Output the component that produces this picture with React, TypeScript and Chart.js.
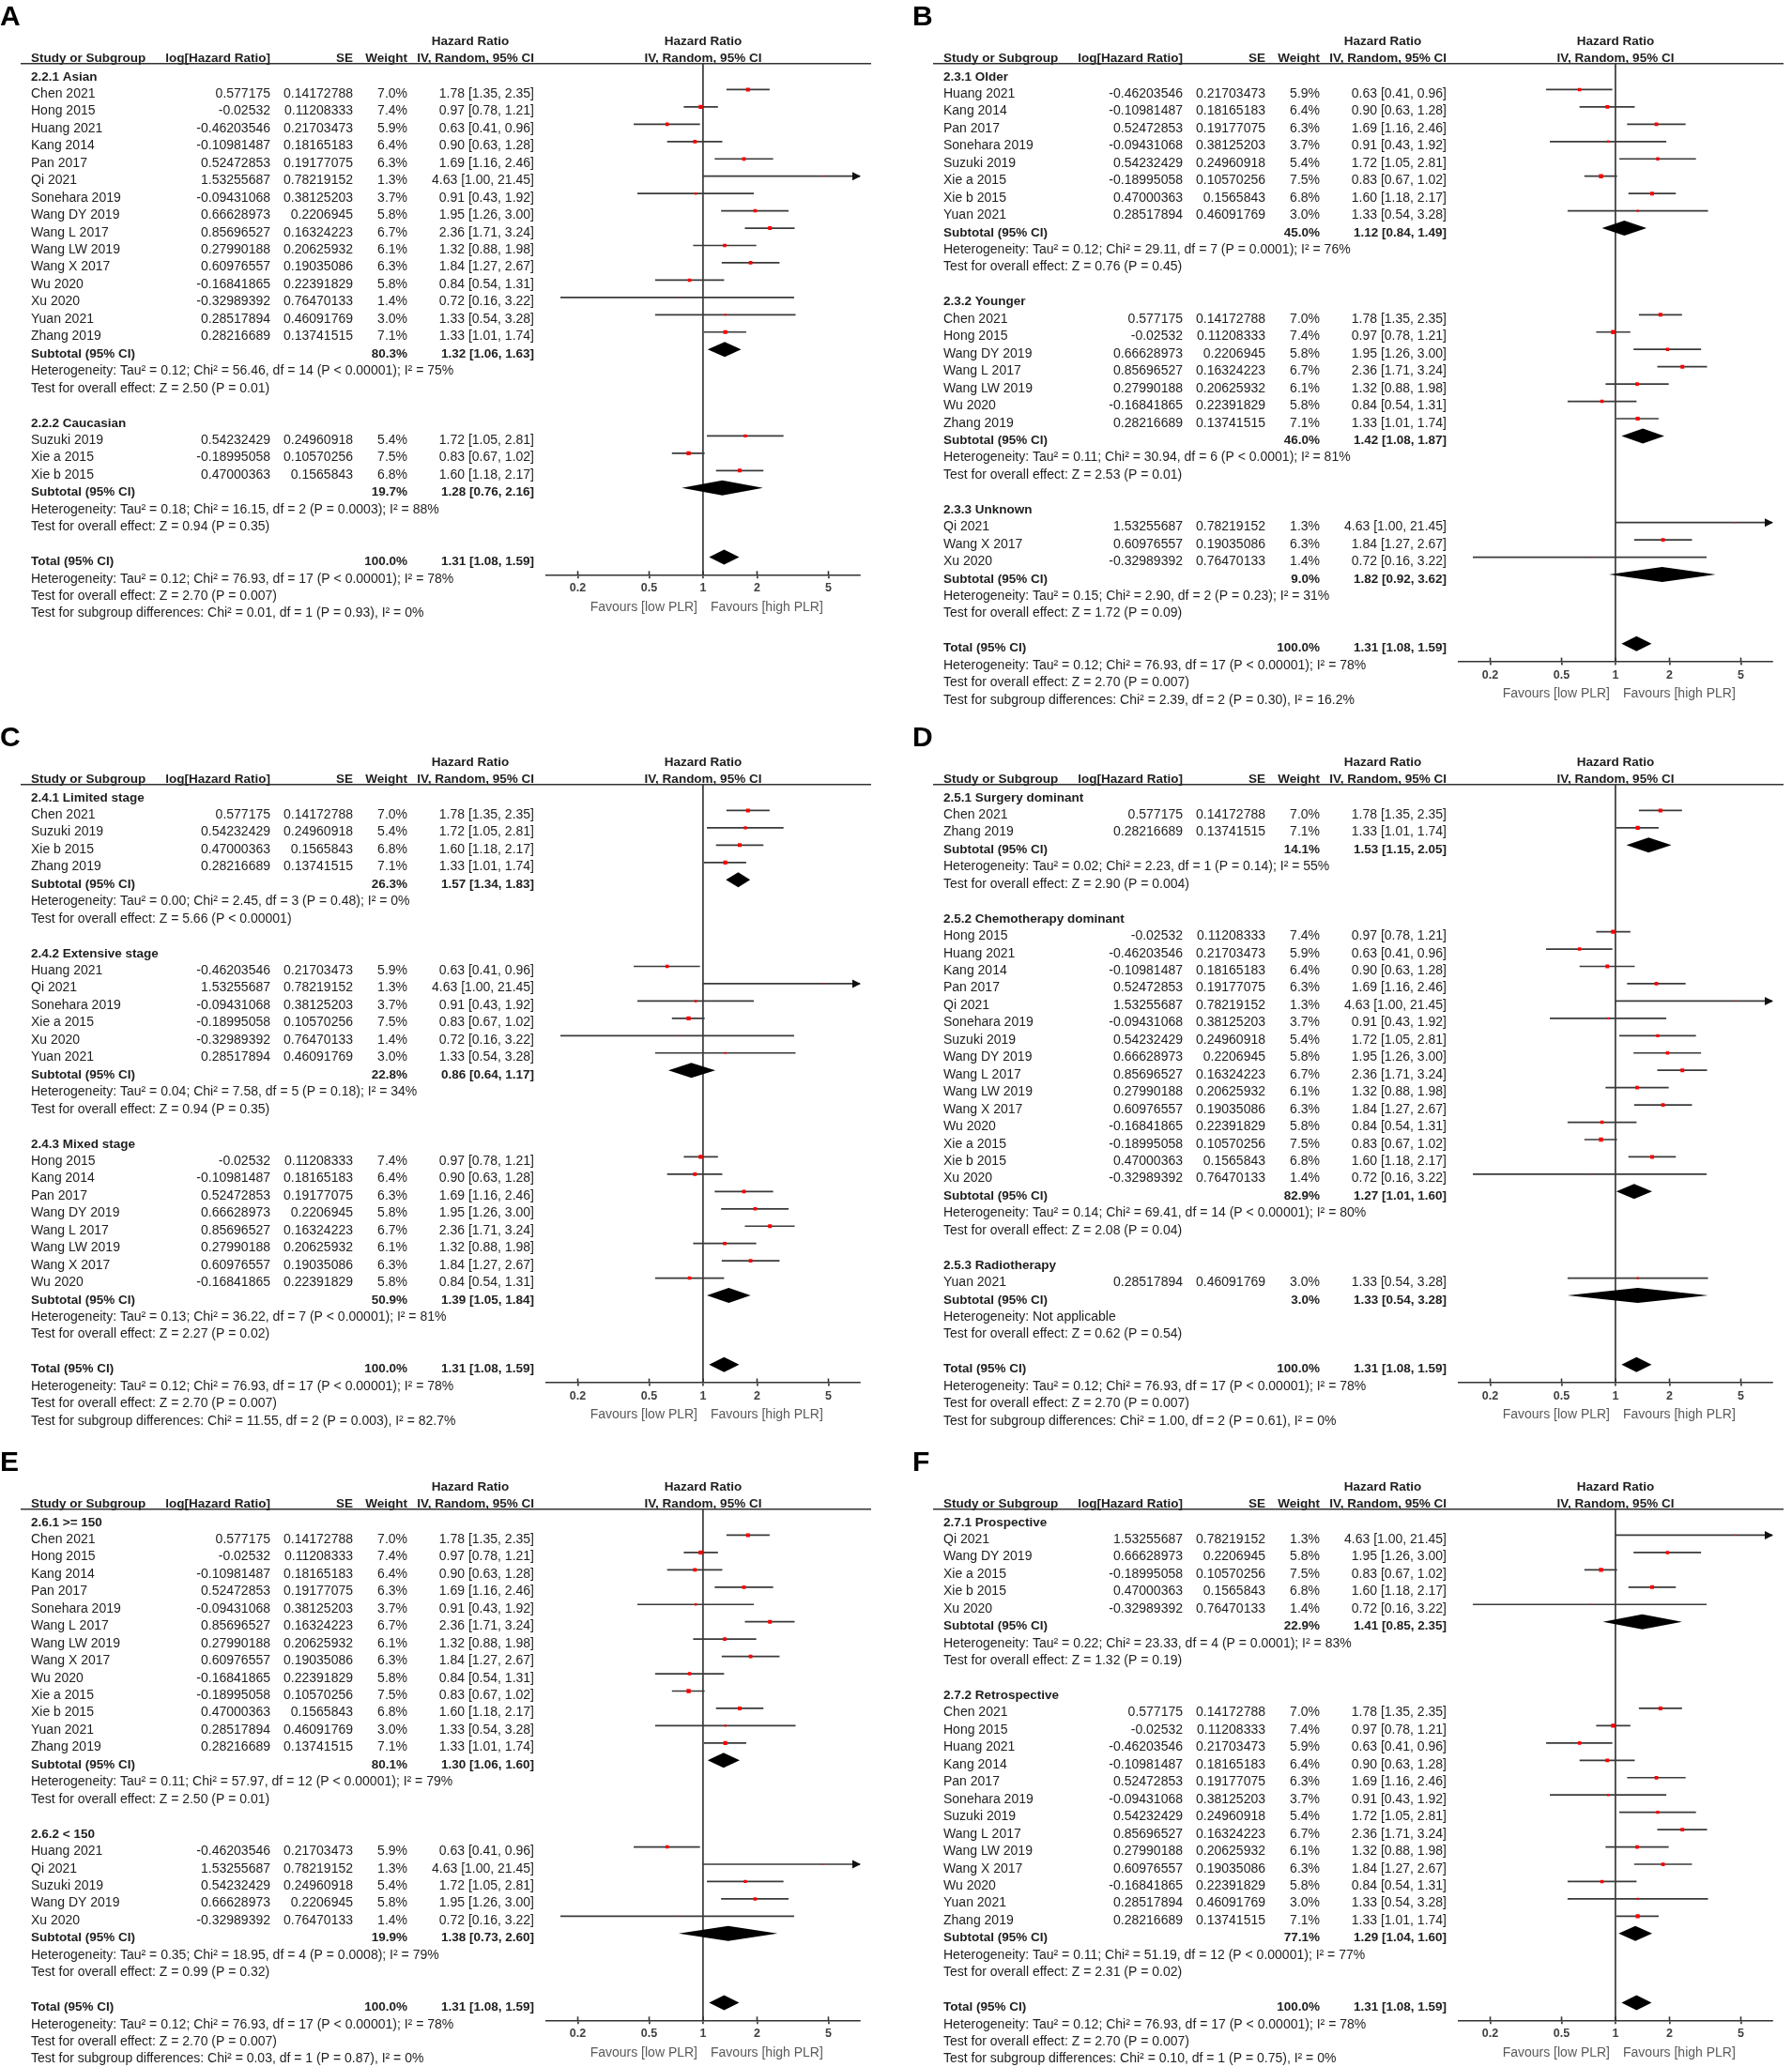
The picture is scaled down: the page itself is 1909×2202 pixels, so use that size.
import React, { useEffect, useRef } from "react";
import { Chart, registerables } from "chart.js";

Chart.register(...registerables);

const FONT = '"Liberation Sans", Arial, Helvetica, sans-serif';

// ---------- study-level data ----------
const studyNames = ["Chen 2021", "Hong 2015", "Huang 2021", "Kang 2014", "Pan 2017", "Qi 2021", "Sonehara 2019", "Suzuki 2019", "Wang DY 2019", "Wang L 2017", "Wang LW 2019", "Wang X 2017", "Wu 2020", "Xie a 2015", "Xie b 2015", "Xu 2020", "Yuan 2021", "Zhang 2019"];
const logHazardRatio = ["0.577175", "-0.02532", "-0.46203546", "-0.10981487", "0.52472853", "1.53255687", "-0.09431068", "0.54232429", "0.66628973", "0.85696527", "0.27990188", "0.60976557", "-0.16841865", "-0.18995058", "0.47000363", "-0.32989392", "0.28517894", "0.28216689"];
const standardError = ["0.14172788", "0.11208333", "0.21703473", "0.18165183", "0.19177075", "0.78219152", "0.38125203", "0.24960918", "0.2206945", "0.16324223", "0.20625932", "0.19035086", "0.22391829", "0.10570256", "0.1565843", "0.76470133", "0.46091769", "0.13741515"];
const weightPct = [7.0, 7.4, 5.9, 6.4, 6.3, 1.3, 3.7, 5.4, 5.8, 6.7, 6.1, 6.3, 5.8, 7.5, 6.8, 1.4, 3.0, 7.1];
const hazardRatio = [1.78, 0.97, 0.63, 0.9, 1.69, 4.63, 0.91, 1.72, 1.95, 2.36, 1.32, 1.84, 0.84, 0.83, 1.6, 0.72, 1.33, 1.33];
const ciLower = [1.35, 0.78, 0.41, 0.63, 1.16, 1.0, 0.43, 1.05, 1.26, 1.71, 0.88, 1.27, 0.54, 0.67, 1.18, 0.16, 0.54, 1.01];
const ciUpper = [2.35, 1.21, 0.96, 1.28, 2.46, 21.45, 1.92, 2.81, 3.0, 3.24, 1.98, 2.67, 1.31, 1.02, 2.17, 3.22, 3.28, 1.74];

// ---------- axis ----------
const tickValues = [0.2, 0.5, 1, 2, 5];
const tickLabels = ["0.2", "0.5", "1", "2", "5"];
const axisMin = 0.1335;
const axisMax = 7.49;
const favoursLeft = "Favours [low PLR]";
const favoursRight = "Favours [high PLR]";

// ---------- overall ----------
const totalWeight = "100.0%";
const totalHR = 1.31;
const totalLow = 1.08;
const totalHigh = 1.59;
const totalHet = "Heterogeneity: Tau² = 0.12; Chi² = 76.93, df = 17 (P < 0.00001); I² = 78%";
const totalTest = "Test for overall effect: Z = 2.70 (P = 0.007)";

// ---------- panel A ----------
const aTitles = ["2.2.1 Asian", "2.2.2 Caucasian"];
const aStudies = [["Chen 2021", "Hong 2015", "Huang 2021", "Kang 2014", "Pan 2017", "Qi 2021", "Sonehara 2019", "Wang DY 2019", "Wang L 2017", "Wang LW 2019", "Wang X 2017", "Wu 2020", "Xu 2020", "Yuan 2021", "Zhang 2019"], ["Suzuki 2019", "Xie a 2015", "Xie b 2015"]];
const aSubWeight = ["80.3%", "19.7%"];
const aSubHR = [1.32, 1.28];
const aSubLow = [1.06, 0.76];
const aSubHigh = [1.63, 2.16];
const aHet = ["Heterogeneity: Tau² = 0.12; Chi² = 56.46, df = 14 (P < 0.00001); I² = 75%", "Heterogeneity: Tau² = 0.18; Chi² = 16.15, df = 2 (P = 0.0003); I² = 88%"];
const aTest = ["Test for overall effect: Z = 2.50 (P = 0.01)", "Test for overall effect: Z = 0.94 (P = 0.35)"];
const aDiff = "Test for subgroup differences: Chi² = 0.01, df = 1 (P = 0.93), I² = 0%";

// ---------- panel B ----------
const bTitles = ["2.3.1 Older", "2.3.2 Younger", "2.3.3 Unknown"];
const bStudies = [["Huang 2021", "Kang 2014", "Pan 2017", "Sonehara 2019", "Suzuki 2019", "Xie a 2015", "Xie b 2015", "Yuan 2021"], ["Chen 2021", "Hong 2015", "Wang DY 2019", "Wang L 2017", "Wang LW 2019", "Wu 2020", "Zhang 2019"], ["Qi 2021", "Wang X 2017", "Xu 2020"]];
const bSubWeight = ["45.0%", "46.0%", "9.0%"];
const bSubHR = [1.12, 1.42, 1.82];
const bSubLow = [0.84, 1.08, 0.92];
const bSubHigh = [1.49, 1.87, 3.62];
const bHet = ["Heterogeneity: Tau² = 0.12; Chi² = 29.11, df = 7 (P = 0.0001); I² = 76%", "Heterogeneity: Tau² = 0.11; Chi² = 30.94, df = 6 (P < 0.0001); I² = 81%", "Heterogeneity: Tau² = 0.15; Chi² = 2.90, df = 2 (P = 0.23); I² = 31%"];
const bTest = ["Test for overall effect: Z = 0.76 (P = 0.45)", "Test for overall effect: Z = 2.53 (P = 0.01)", "Test for overall effect: Z = 1.72 (P = 0.09)"];
const bDiff = "Test for subgroup differences: Chi² = 2.39, df = 2 (P = 0.30), I² = 16.2%";

// ---------- panel C ----------
const cTitles = ["2.4.1 Limited stage", "2.4.2 Extensive stage", "2.4.3 Mixed stage"];
const cStudies = [["Chen 2021", "Suzuki 2019", "Xie b 2015", "Zhang 2019"], ["Huang 2021", "Qi 2021", "Sonehara 2019", "Xie a 2015", "Xu 2020", "Yuan 2021"], ["Hong 2015", "Kang 2014", "Pan 2017", "Wang DY 2019", "Wang L 2017", "Wang LW 2019", "Wang X 2017", "Wu 2020"]];
const cSubWeight = ["26.3%", "22.8%", "50.9%"];
const cSubHR = [1.57, 0.86, 1.39];
const cSubLow = [1.34, 0.64, 1.05];
const cSubHigh = [1.83, 1.17, 1.84];
const cHet = ["Heterogeneity: Tau² = 0.00; Chi² = 2.45, df = 3 (P = 0.48); I² = 0%", "Heterogeneity: Tau² = 0.04; Chi² = 7.58, df = 5 (P = 0.18); I² = 34%", "Heterogeneity: Tau² = 0.13; Chi² = 36.22, df = 7 (P < 0.00001); I² = 81%"];
const cTest = ["Test for overall effect: Z = 5.66 (P < 0.00001)", "Test for overall effect: Z = 0.94 (P = 0.35)", "Test for overall effect: Z = 2.27 (P = 0.02)"];
const cDiff = "Test for subgroup differences: Chi² = 11.55, df = 2 (P = 0.003), I² = 82.7%";

// ---------- panel D ----------
const dTitles = ["2.5.1 Surgery dominant", "2.5.2 Chemotherapy dominant", "2.5.3 Radiotherapy"];
const dStudies = [["Chen 2021", "Zhang 2019"], ["Hong 2015", "Huang 2021", "Kang 2014", "Pan 2017", "Qi 2021", "Sonehara 2019", "Suzuki 2019", "Wang DY 2019", "Wang L 2017", "Wang LW 2019", "Wang X 2017", "Wu 2020", "Xie a 2015", "Xie b 2015", "Xu 2020"], ["Yuan 2021"]];
const dSubWeight = ["14.1%", "82.9%", "3.0%"];
const dSubHR = [1.53, 1.27, 1.33];
const dSubLow = [1.15, 1.01, 0.54];
const dSubHigh = [2.05, 1.6, 3.28];
const dHet = ["Heterogeneity: Tau² = 0.02; Chi² = 2.23, df = 1 (P = 0.14); I² = 55%", "Heterogeneity: Tau² = 0.14; Chi² = 69.41, df = 14 (P < 0.00001); I² = 80%", "Heterogeneity: Not applicable"];
const dTest = ["Test for overall effect: Z = 2.90 (P = 0.004)", "Test for overall effect: Z = 2.08 (P = 0.04)", "Test for overall effect: Z = 0.62 (P = 0.54)"];
const dDiff = "Test for subgroup differences: Chi² = 1.00, df = 2 (P = 0.61), I² = 0%";

// ---------- panel E ----------
const eTitles = ["2.6.1 >= 150", "2.6.2 < 150"];
const eStudies = [["Chen 2021", "Hong 2015", "Kang 2014", "Pan 2017", "Sonehara 2019", "Wang L 2017", "Wang LW 2019", "Wang X 2017", "Wu 2020", "Xie a 2015", "Xie b 2015", "Yuan 2021", "Zhang 2019"], ["Huang 2021", "Qi 2021", "Suzuki 2019", "Wang DY 2019", "Xu 2020"]];
const eSubWeight = ["80.1%", "19.9%"];
const eSubHR = [1.3, 1.38];
const eSubLow = [1.06, 0.73];
const eSubHigh = [1.6, 2.6];
const eHet = ["Heterogeneity: Tau² = 0.11; Chi² = 57.97, df = 12 (P < 0.00001); I² = 79%", "Heterogeneity: Tau² = 0.35; Chi² = 18.95, df = 4 (P = 0.0008); I² = 79%"];
const eTest = ["Test for overall effect: Z = 2.50 (P = 0.01)", "Test for overall effect: Z = 0.99 (P = 0.32)"];
const eDiff = "Test for subgroup differences: Chi² = 0.03, df = 1 (P = 0.87), I² = 0%";

// ---------- panel F ----------
const fTitles = ["2.7.1 Prospective", "2.7.2 Retrospective"];
const fStudies = [["Qi 2021", "Wang DY 2019", "Xie a 2015", "Xie b 2015", "Xu 2020"], ["Chen 2021", "Hong 2015", "Huang 2021", "Kang 2014", "Pan 2017", "Sonehara 2019", "Suzuki 2019", "Wang L 2017", "Wang LW 2019", "Wang X 2017", "Wu 2020", "Yuan 2021", "Zhang 2019"]];
const fSubWeight = ["22.9%", "77.1%"];
const fSubHR = [1.41, 1.29];
const fSubLow = [0.85, 1.04];
const fSubHigh = [2.35, 1.6];
const fHet = ["Heterogeneity: Tau² = 0.22; Chi² = 23.33, df = 4 (P = 0.0001); I² = 83%", "Heterogeneity: Tau² = 0.11; Chi² = 51.19, df = 12 (P < 0.00001); I² = 77%"];
const fTest = ["Test for overall effect: Z = 1.32 (P = 0.19)", "Test for overall effect: Z = 2.31 (P = 0.02)"];
const fDiff = "Test for subgroup differences: Chi² = 0.10, df = 1 (P = 0.75), I² = 0%";

// ---------- layout (panel-relative) ----------
const L = {
  nameX: 33, logX: 288, seX: 376, weightX: 434, ciX: 569, hrHeadX: 501,
  lineX0: 22, lineX1: 928, plotX0: 582, plotX1: 916,
  head1Y: 42.7, head2Y: 61, lineY: 67.7, row0: 77, pitch: 18.45, textDy: 3.5,
  axisGap: 18.7, axisH: 40,
};

const panels = [
  { letter: "A", x: 0, y: 0, w: 940, h: 768, titles: aTitles, studies: aStudies, sw: aSubWeight, shr: aSubHR, slo: aSubLow, shi: aSubHigh, het: aHet, test: aTest, diff: aDiff },
  { letter: "B", x: 972, y: 0, w: 937, h: 768, titles: bTitles, studies: bStudies, sw: bSubWeight, shr: bSubHR, slo: bSubLow, shi: bSubHigh, het: bHet, test: bTest, diff: bDiff },
  { letter: "C", x: 0, y: 768, w: 940, h: 772, titles: cTitles, studies: cStudies, sw: cSubWeight, shr: cSubHR, slo: cSubLow, shi: cSubHigh, het: cHet, test: cTest, diff: cDiff },
  { letter: "D", x: 972, y: 768, w: 937, h: 772, titles: dTitles, studies: dStudies, sw: dSubWeight, shr: dSubHR, slo: dSubLow, shi: dSubHigh, het: dHet, test: dTest, diff: dDiff },
  { letter: "E", x: 0, y: 1540, w: 940, h: 662, titles: eTitles, studies: eStudies, sw: eSubWeight, shr: eSubHR, slo: eSubLow, shi: eSubHigh, het: eHet, test: eTest, diff: eDiff },
  { letter: "F", x: 972, y: 1540, w: 937, h: 662, titles: fTitles, studies: fStudies, sw: fSubWeight, shr: fSubHR, slo: fSubLow, shi: fSubHigh, het: fHet, test: fTest, diff: fDiff },
];

const fmtCI = (e: number, lo: number, hi: number) => `${e.toFixed(2)} [${lo.toFixed(2)}, ${hi.toFixed(2)}]`;

function buildRows(p: any) {
  const rows: any[] = [];
  p.titles.forEach((t: string, g: number) => {
    rows.push({ kind: "group", text: t });
    p.studies[g].forEach((n: string) => rows.push({ kind: "study", s: studyNames.indexOf(n) }));
    rows.push({ kind: "sub", label: "Subtotal (95% CI)", weight: p.sw[g], est: p.shr[g], lo: p.slo[g], hi: p.shi[g] });
    rows.push({ kind: "note", text: p.het[g] });
    rows.push({ kind: "note", text: p.test[g] });
    rows.push({ kind: "blank" });
  });
  rows.push({ kind: "sub", label: "Total (95% CI)", weight: totalWeight, est: totalHR, lo: totalLow, hi: totalHigh, total: true });
  rows.push({ kind: "note", text: totalHet });
  rows.push({ kind: "note", text: totalTest });
  rows.push({ kind: "note", text: p.diff });
  return rows;
}

function ForestPanel({ p }: { p: any }) {
  const ref = useRef<HTMLCanvasElement | null>(null);
  useEffect(() => {
    const canvas = ref.current;
    if (!canvas) return;
    const rows = buildRows(p);
    const totalRow = rows.findIndex((r) => r.total);
    const axisY = L.row0 + L.pitch * totalRow + L.axisGap;
    const yMin = (L.lineY - L.row0) / L.pitch;
    const yMax = totalRow + L.axisGap / L.pitch;

    const studyRows = rows.map((r, i) => ({ r, i })).filter((o) => o.r.kind === "study");
    const datasets: any[] = [];
    datasets.push({
      label: "studies",
      data: studyRows.map((o) => ({ x: hazardRatio[o.r.s], y: o.i })),
      pointStyle: "rect",
      pointRadius: studyRows.map((o) => (0.5 * weightPct[o.r.s] + 0.6) / Math.SQRT2),
      pointBackgroundColor: "#ff0000",
      pointBorderColor: "#ff0000",
      pointBorderWidth: 0,
      showLine: false,
      order: 1,
    });
    studyRows.forEach((o) => {
      datasets.push({
        label: studyNames[o.r.s],
        data: [{ x: ciLower[o.r.s], y: o.i }, { x: ciUpper[o.r.s], y: o.i }],
        showLine: true,
        borderColor: "#3a3a3a",
        borderWidth: 1.7,
        pointRadius: 0,
        order: 2,
      });
    });

    const font = (size: number, bold: boolean) => `${bold ? "bold " : ""}${size}px ${FONT}`;

    const plugin = {
      id: "forestTable" + p.letter,
      afterDatasetsDraw(chart: any) {
        const ctx = chart.ctx;
        const xs = chart.scales.x;
        const ys = chart.scales.y;
        ctx.save();
        rows.forEach((r, i) => {
          const y = ys.getPixelForValue(i);
          if (r.kind === "sub") {
            const xl = xs.getPixelForValue(r.lo);
            const xe = xs.getPixelForValue(r.est);
            const xh = xs.getPixelForValue(r.hi);
            ctx.beginPath();
            ctx.moveTo(xl, y);
            ctx.lineTo(xe, y - 8);
            ctx.lineTo(xh, y);
            ctx.lineTo(xe, y + 8);
            ctx.closePath();
            ctx.fillStyle = "#000";
            ctx.fill();
          }
          if (r.kind === "study" && ciUpper[r.s] > axisMax) {
            const xr = chart.chartArea.right;
            ctx.beginPath();
            ctx.moveTo(xr + 1, y);
            ctx.lineTo(xr - 8, y - 4.5);
            ctx.lineTo(xr - 8, y + 4.5);
            ctx.closePath();
            ctx.fillStyle = "#111";
            ctx.fill();
          }
        });
        ctx.restore();
      },
      afterDraw(chart: any) {
        const ctx = chart.ctx;
        const xs = chart.scales.x;
        const ys = chart.scales.y;
        const ca = chart.chartArea;
        ctx.save();
        const text = (s: string, x: number, y: number, align: string, bold = false, size = 14, color = "#1e1e1e") => {
          ctx.font = font(size, bold);
          ctx.fillStyle = color;
          ctx.textAlign = align;
          ctx.textBaseline = "alphabetic";
          ctx.fillText(s, x, y);
        };
        // panel letter
        text(p.letter, 0, 27, "left", true, 30, "#000");
        // headers
        const plotMid = (ca.left + ca.right) / 2;
        const h1 = L.head1Y + 5;
        const h2 = L.head2Y + 5;
        text("Hazard Ratio", L.hrHeadX, h1, "center", true, 13.5);
        text("Hazard Ratio", plotMid, h1, "center", true, 13.5);
        text("Study or Subgroup", L.nameX, h2, "left", true, 13.5);
        text("log[Hazard Ratio]", L.logX, h2, "right", true, 13.5);
        text("SE", L.seX, h2, "right", true, 13.5);
        text("Weight", L.weightX, h2, "right", true, 13.5);
        text("IV, Random, 95% CI", L.ciX, h2, "right", true, 13.5);
        text("IV, Random, 95% CI", plotMid, h2, "center", true, 13.5);
        ctx.beginPath();
        ctx.moveTo(L.lineX0, L.lineY);
        ctx.lineTo(L.lineX1, L.lineY);
        ctx.strokeStyle = "#333";
        ctx.lineWidth = 1.6;
        ctx.stroke();
        // rows
        rows.forEach((r, i) => {
          const y = ys.getPixelForValue(i) + L.textDy + 5;
          if (r.kind === "group") {
            text(r.text, L.nameX, y, "left", true, 13.5);
          } else if (r.kind === "study") {
            const s = r.s;
            text(studyNames[s], L.nameX, y, "left");
            text(logHazardRatio[s], L.logX, y, "right");
            text(standardError[s], L.seX, y, "right");
            text(weightPct[s].toFixed(1) + "%", L.weightX, y, "right");
            text(fmtCI(hazardRatio[s], ciLower[s], ciUpper[s]), L.ciX, y, "right");
          } else if (r.kind === "sub") {
            text(r.label, L.nameX, y, "left", true, 13.5);
            text(r.weight, L.weightX, y, "right", true, 13.5);
            text(fmtCI(r.est, r.lo, r.hi), L.ciX, y, "right", true, 13.5);
          } else if (r.kind === "note") {
            text(r.text, L.nameX, y, "left");
          }
        });
        // upward half of tick marks
        ctx.strokeStyle = "#333";
        ctx.lineWidth = 1.6;
        tickValues.forEach((v) => {
          const x = xs.getPixelForValue(v);
          ctx.beginPath();
          ctx.moveTo(x, ca.bottom - 4);
          ctx.lineTo(x, ca.bottom);
          ctx.stroke();
        });
        // favours labels
        const x1 = xs.getPixelForValue(1);
        const fy = ca.bottom + 38.4;
        text(favoursLeft, x1 - 6, fy, "right", false, 14, "#5a5a5a");
        text(favoursRight, x1 + 8, fy, "left", false, 14, "#5a5a5a");
        ctx.restore();
      },
    };

    const chart = new Chart(canvas, {
      type: "scatter",
      data: { datasets },
      options: {
        animation: false,
        responsive: false,
        maintainAspectRatio: false,
        devicePixelRatio: 1,
        events: [],
        layout: {
          padding: { left: L.plotX0, right: p.w - L.plotX1, top: L.lineY, bottom: p.h - axisY - L.axisH },
        },
        plugins: { legend: { display: false }, tooltip: { enabled: false }, title: { display: false } },
        scales: {
          x: {
            type: "logarithmic",
            position: "bottom",
            min: axisMin,
            max: axisMax,
            bounds: "data",
            afterBuildTicks: (s: any) => {
              s.ticks = tickValues.map((v) => ({ value: v }));
            },
            afterFit: (s: any) => {
              s.height = L.axisH;
            },
            ticks: {
              autoSkip: false,
              maxRotation: 0,
              padding: 3,
              color: "#404040",
              font: { family: FONT, size: 12.5, weight: "bold" },
              callback: (v: any) => {
                const k = tickValues.indexOf(Number(v));
                return k >= 0 ? tickLabels[k] : "";
              },
            },
            grid: {
              drawOnChartArea: true,
              color: (c: any) => (c.tick && c.tick.value === 1 ? "#444" : "rgba(0,0,0,0)"),
              lineWidth: 1.8,
              tickLength: 4,
              tickColor: "#333",
              tickWidth: 1.6,
            },
            border: { display: true, color: "#333", width: 1.6 },
          },
          y: { type: "linear", display: false, reverse: true, min: yMin, max: yMax },
        },
      },
      plugins: [plugin],
    } as any);
    return () => chart.destroy();
  }, [p]);
  return (
    <canvas
      ref={ref}
      width={p.w}
      height={p.h}
      style={{ position: "absolute", left: p.x, top: p.y, width: p.w, height: p.h }}
    />
  );
}

export default function App() {
  return (
    <div style={{ position: "absolute", left: 0, top: 0, width: 1909, height: 2202, background: "#fff", overflow: "hidden" }}>
      {panels.map((p) => (
        <ForestPanel key={p.letter} p={p} />
      ))}
    </div>
  );
}
